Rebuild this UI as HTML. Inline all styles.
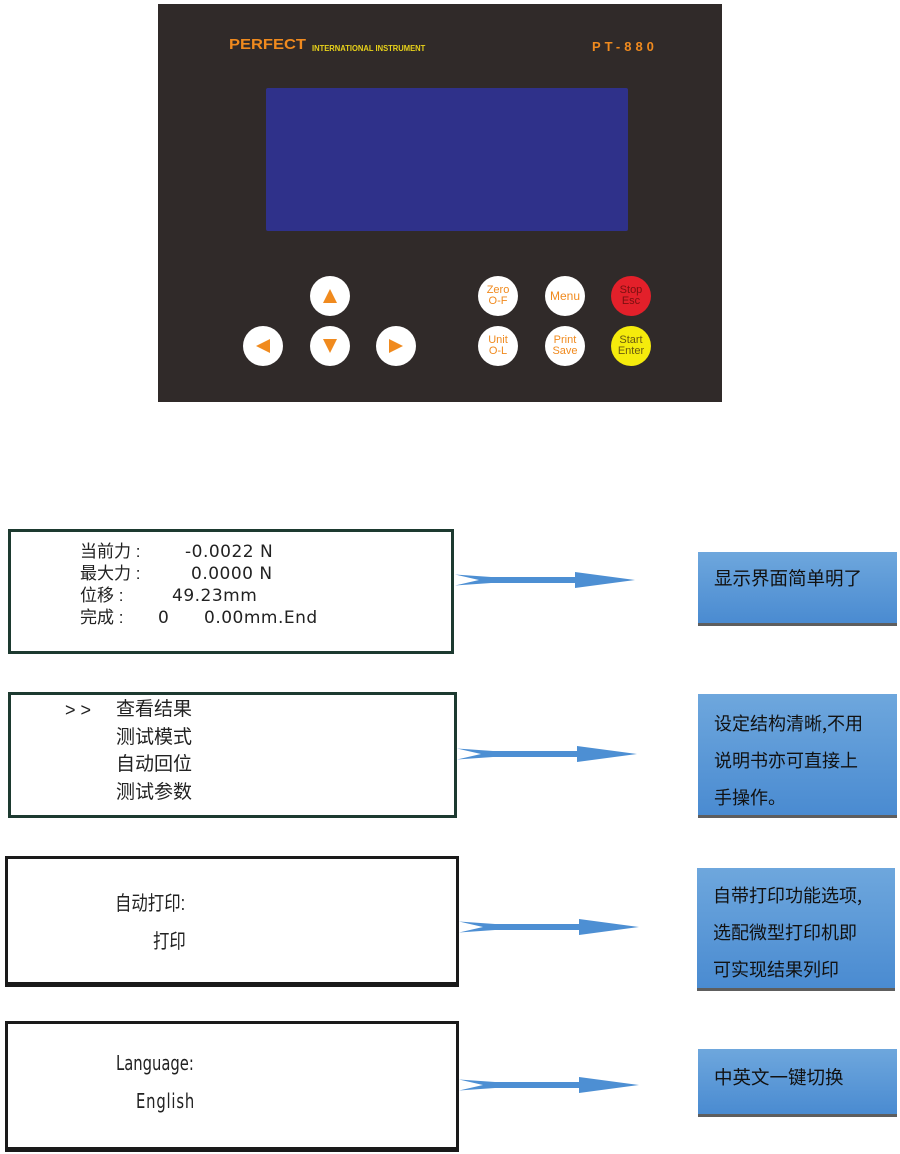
<!DOCTYPE html>
<html><head><meta charset="utf-8"><style>
body{margin:0;width:900px;height:1154px;background:#fff;position:relative;overflow:hidden;font-family:"Liberation Sans","Noto Sans CJK SC",sans-serif}
.a{position:absolute}
.panel{left:158px;top:4px;width:564px;height:398px;background:#302a29}
.scr{left:266px;top:88px;width:362px;height:143px;background:#2f318a;border-radius:2px}
.btn{position:absolute;width:40px;height:40px;border-radius:50%;background:#fff;display:flex;align-items:center;justify-content:center;flex-direction:column;font-size:11px;line-height:11px;color:#f08a1e;text-align:center}
.lb{position:absolute;background:#fff}
.t{position:absolute;white-space:nowrap;color:#222}
.d{font-family:"DejaVu Sans","Noto Sans CJK SC",sans-serif}
.bb{position:absolute;background:linear-gradient(#6ea7dd,#4a8bd1);border-bottom:3px solid #5e5e5e;box-sizing:border-box;color:#111;font-size:18.5px;padding-left:16px;font-family:"Noto Sans CJK SC",sans-serif;white-space:nowrap}
</style></head><body>
<div class="a panel"></div>
<div class="a" style="left:229px;top:36px;color:#f08a1e;font-weight:bold;font-size:15px;transform:scaleX(1.1);transform-origin:left">PERFECT</div>
<div class="a" style="left:312px;top:44px;color:#e8d21a;font-weight:bold;font-size:8px;transform:scaleX(0.95);transform-origin:left">INTERNATIONAL INSTRUMENT</div>
<div class="a" style="left:592px;top:39px;color:#f08a1e;font-weight:bold;font-size:13px;letter-spacing:4px">PT-880</div>
<div class="a scr"></div>
<div class="btn" style="left:310px;top:276px"><svg width="16" height="16"><polygon points="8,1 15,15 1,15" fill="#f08a1e"/></svg></div>
<div class="btn" style="left:243px;top:326px"><svg width="16" height="16"><polygon points="1,8 15,1 15,15" fill="#f08a1e"/></svg></div>
<div class="btn" style="left:310px;top:326px"><svg width="16" height="16"><polygon points="1,1 15,1 8,15" fill="#f08a1e"/></svg></div>
<div class="btn" style="left:376px;top:326px"><svg width="16" height="16"><polygon points="1,1 15,8 1,15" fill="#f08a1e"/></svg></div>
<div class="btn" style="left:478px;top:276px">Zero<br>O-F</div>
<div class="btn" style="left:545px;top:276px;font-size:12px">Menu</div>
<div class="btn" style="left:611px;top:276px;background:#e3202a;color:#7a1010">Stop<br>Esc</div>
<div class="btn" style="left:478px;top:326px">Unit<br>O-L</div>
<div class="btn" style="left:545px;top:326px">Print<br>Save</div>
<div class="btn" style="left:611px;top:326px;background:#f5eb0c;color:#6a5a10">Start<br>Enter</div>

<div class="lb" style="left:8px;top:529px;width:440px;height:119px;border:3px solid #1d3a30"></div>
<div class="t" style="left:80px;top:541px;font-size:17px;line-height:22px">当前力 :<br>最大力 :<br>位移 :<br>完成 :</div>
<div class="t d" style="left:185px;top:541px;font-size:17px;line-height:22px;letter-spacing:0.5px">-0.0022 N</div>
<div class="t d" style="left:191px;top:563px;font-size:17px;line-height:22px;letter-spacing:0.5px">0.0000 N</div>
<div class="t d" style="left:172px;top:585px;font-size:17px;line-height:22px;letter-spacing:0.5px">49.23mm</div>
<div class="t d" style="left:158px;top:607px;font-size:17px;line-height:22px">0</div>
<div class="t d" style="left:204px;top:607px;font-size:17px;line-height:22px;letter-spacing:0.5px">0.00mm.End</div>

<div class="lb" style="left:8px;top:692px;width:443px;height:120px;border:3px solid #1d3a30"></div>
<div class="t" style="left:65px;top:697px;font-size:18px;line-height:27.7px">&gt; &gt;</div>
<div class="t" style="left:116px;top:696px;font-size:19px;line-height:27.7px">查看结果<br>测试模式<br>自动回位<br>测试参数</div>

<div class="lb" style="left:5px;top:856px;width:448px;height:123px;border:3px solid #1a1a1a;border-bottom-width:5px"></div>
<div class="t" style="left:115px;top:887px;font-size:20px;transform:scaleX(0.82);transform-origin:left">自动打印:</div>
<div class="t" style="left:153px;top:925px;font-size:20px;transform:scaleX(0.82);transform-origin:left">打印</div>

<div class="lb" style="left:5px;top:1021px;width:448px;height:123px;border:3px solid #1a1a1a;border-bottom-width:5px"></div>
<div class="t" style="left:116px;top:1051px;font-size:20px;font-family:'DejaVu Sans Condensed','DejaVu Sans',sans-serif;transform:scaleX(0.82);transform-origin:left">Language:</div>
<div class="t" style="left:136px;top:1089px;font-size:20px;font-family:'DejaVu Sans Condensed','DejaVu Sans',sans-serif;transform:scaleX(0.82);transform-origin:left;letter-spacing:1px">English</div>

<svg class="a" style="left:0;top:0" width="900" height="1154">
<defs><polygon id="ar" points="0,-5.5 36,-3 120,-3 120,-8 180,0 120,8 120,3 36,3 0,5.5 24,0" fill="#4d8fd3"/></defs>
<use href="#ar" x="455" y="580"/>
<use href="#ar" x="457" y="754"/>
<use href="#ar" x="459" y="927"/>
<use href="#ar" x="459" y="1085"/>
</svg>

<div class="bb" style="left:698px;top:552px;width:199px;height:74px;padding-top:13px">显示界面简单明了</div>
<div class="bb" style="left:698px;top:694px;width:199px;height:124px;padding-top:11px;line-height:37px;font-size:18px">设定结构清晰,不用<br>说明书亦可直接上<br>手操作。</div>
<div class="bb" style="left:697px;top:868px;width:198px;height:123px;padding-top:9px;line-height:37px;font-size:18px">自带打印功能选项,<br>选配微型打印机即<br>可实现结果列印</div>
<div class="bb" style="left:698px;top:1049px;width:199px;height:68px;padding-top:15px">中英文一键切换</div>
</body></html>
